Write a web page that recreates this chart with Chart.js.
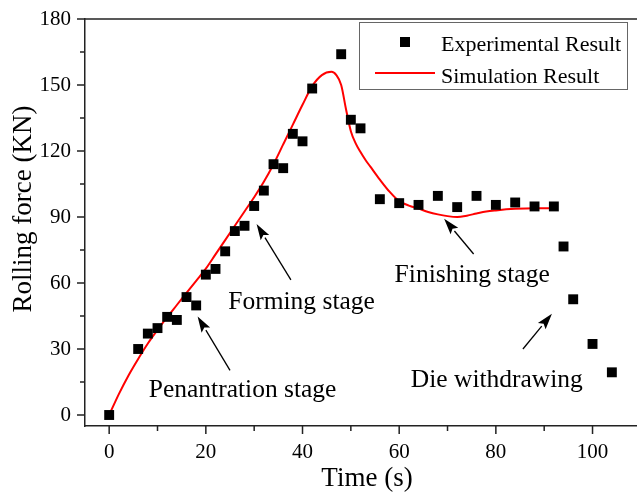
<!DOCTYPE html>
<html>
<head>
<meta charset="utf-8">
<script src="https://cdn.jsdelivr.net/npm/chart.js@4.4.0/dist/chart.umd.min.js"></script>
<style>
  html, body { margin: 0; padding: 0; background: #fff; overflow: hidden; }
  canvas { display: block; }
</style>
</head>
<body>
<canvas id="chart" width="637" height="492"></canvas>
<script>
// experimental measurements (time s, force KN)
const expTime  = [0, 6, 8, 10, 12, 14, 16, 18, 20, 22, 24, 26, 28, 30, 32, 34, 36, 38, 40, 42,
                  48, 50, 52, 56, 60, 64, 68, 72, 76, 80, 84, 88, 92, 94, 96, 100, 104];
const expForce = [0, 30, 37, 39.5, 44.6, 43.2, 53.6, 49.8, 63.8, 66.4, 74.4, 83.6, 86, 95, 102, 114, 112.2, 127.8, 124.4, 148.4,
                  164, 134.2, 130.3, 98.1, 96.3, 95.5, 99.6, 94.5, 99.6, 95.5, 96.6, 94.8, 94.8, 76.6, 52.6, 32.3, 19.4];

// simulation curve
const simTime  = [0, 2, 4, 6, 8, 10, 12, 14, 16, 18, 20, 22, 24, 26, 28, 30, 32, 34, 36, 38, 40, 42, 44,
                  46, 47, 48, 49, 50, 51, 52, 53, 54, 56, 58, 60, 62, 64, 66, 68, 70, 72, 74, 76, 78, 80, 84, 88, 92];
const simForce = [0, 9.5, 18, 25.5, 32.5, 38.7, 44.5, 50, 55.5, 61, 66.5, 73, 79.5, 86, 92.5, 99, 106, 114, 123, 132, 141, 149.5, 154.5,
                  156, 154.5, 150, 139, 129, 123.5, 119.5, 116, 113, 107, 101.5, 97.2, 95.2, 93.8, 92.3, 91.2, 90.4, 90, 90.6, 91.6, 92.5, 93, 93.7, 94, 94];

// axes
const xTicks = [0, 20, 40, 60, 80, 100];
const xMinor = [10, 30, 50, 70, 90];
const yTicks = [0, 30, 60, 90, 120, 150, 180];
const yMinor = [15, 45, 75, 105, 135, 165];

// stage labels and arrows (data coordinates)
const stageText  = ['Penantration stage', 'Forming stage', 'Finishing stage', 'Die withdrawing'];
const stageTextX = [27.6, 39.8, 75.1, 80.2];
const stageTextY = [8.3, 48.1, 60.6, 12.9];
const arrowFromX = [25, 37.6, 75.4, 85.6];
const arrowFromY = [20.3, 61.4, 73.2, 30];
const arrowToX   = [18.3, 30.5, 69.3, 91.6];
const arrowToY   = [44.8, 86.8, 89.2, 46];

const serif = "'Liberation Serif', 'Times New Roman', serif";
Chart.defaults.font.family = serif;
Chart.defaults.color = '#000';

function arrow(ctx, x0, y0, x1, y1) {
  const ang = Math.atan2(y1 - y0, x1 - x0);
  const len = 16, half = 5;
  const bx = x1 - len * Math.cos(ang), by = y1 - len * Math.sin(ang);
  ctx.beginPath();
  ctx.moveTo(x0, y0);
  ctx.lineTo(bx, by);
  ctx.stroke();
  ctx.beginPath();
  ctx.moveTo(x1, y1);
  ctx.lineTo(bx + half * Math.sin(ang), by - half * Math.cos(ang));
  ctx.lineTo(x1 - (len - 3) * Math.cos(ang), y1 - (len - 3) * Math.sin(ang));
  ctx.lineTo(bx - half * Math.sin(ang), by + half * Math.cos(ang));
  ctx.closePath();
  ctx.fill();
}

const decor = {
  id: 'decor',
  afterDraw(chart) {
    const { ctx, chartArea: a, scales: { x, y } } = chart;
    ctx.save();
    ctx.strokeStyle = '#222';
    ctx.lineWidth = 1.5;

    // top frame
    ctx.beginPath();
    ctx.moveTo(a.left, a.top);
    ctx.lineTo(a.right, a.top);
    ctx.stroke();

    // tick marks, outward
    ctx.beginPath();
    xTicks.forEach(v => { const p = x.getPixelForValue(v); ctx.moveTo(p, a.bottom); ctx.lineTo(p, a.bottom + 8); });
    xMinor.forEach(v => { const p = x.getPixelForValue(v); ctx.moveTo(p, a.bottom); ctx.lineTo(p, a.bottom + 5); });
    yTicks.forEach(v => { const p = y.getPixelForValue(v); ctx.moveTo(a.left, p); ctx.lineTo(a.left - 8, p); });
    yMinor.forEach(v => { const p = y.getPixelForValue(v); ctx.moveTo(a.left, p); ctx.lineTo(a.left - 5, p); });
    ctx.stroke();

    // axis titles
    ctx.fillStyle = '#000';
    ctx.font = '27px ' + serif;
    ctx.textAlign = 'center';
    ctx.textBaseline = 'alphabetic';
    ctx.fillText('Time (s)', 367, 486);
    ctx.save();
    ctx.translate(31, 209);
    ctx.rotate(-Math.PI / 2);
    ctx.fillText('Rolling force (KN)', 0, 0);
    ctx.restore();

    // stage labels with arrows
    ctx.font = '25.5px ' + serif;
    stageText.forEach((t, i) => {
      ctx.fillText(t, x.getPixelForValue(stageTextX[i]), y.getPixelForValue(stageTextY[i]));
    });
    ctx.strokeStyle = '#000';
    ctx.lineWidth = 1.3;
    stageText.forEach((t, i) => {
      arrow(ctx, x.getPixelForValue(arrowFromX[i]), y.getPixelForValue(arrowFromY[i]),
                 x.getPixelForValue(arrowToX[i]), y.getPixelForValue(arrowToY[i]));
    });

    // legend
    const lx = a.right - 278, ly = a.top + 3;
    ctx.strokeStyle = '#666';
    ctx.lineWidth = 1;
    ctx.strokeRect(lx + 0.5, ly + 0.5, 268, 67);
    ctx.fillStyle = '#000';
    ctx.fillRect(lx + 41, ly + 15, 10, 10);
    ctx.strokeStyle = 'rgb(255,0,0)';
    ctx.lineWidth = 2;
    ctx.beginPath();
    ctx.moveTo(lx + 16, ly + 51);
    ctx.lineTo(lx + 76, ly + 51);
    ctx.stroke();
    ctx.font = '22px ' + serif;
    ctx.textAlign = 'left';
    ctx.fillText('Experimental Result', lx + 82, ly + 29);
    ctx.fillText('Simulation Result', lx + 82, ly + 61);
    ctx.restore();
  }
};

new Chart(document.getElementById('chart'), {
  type: 'scatter',
  data: {
    datasets: [{
      label: 'Experimental Result',
      data: expTime.map((t, i) => ({ x: t, y: expForce[i] })),
      pointStyle: 'rect',
      pointRadius: 7,
      backgroundColor: '#000',
      borderColor: '#000',
      borderWidth: 0,
      showLine: false,
      order: 0
    }, {
      label: 'Simulation Result',
      data: simTime.map((t, i) => ({ x: t, y: simForce[i] })),
      showLine: true,
      borderColor: 'rgb(255,0,0)',
      borderWidth: 2,
      pointRadius: 0,
      cubicInterpolationMode: 'monotone',
      order: 1
    }]
  },
  options: {
    responsive: false,
    animation: false,
    layout: { autoPadding: false, padding: { top: 19, right: 0, left: 0, bottom: 0 } },
    plugins: { legend: { display: false }, tooltip: { enabled: false } },
    scales: {
      x: {
        type: 'linear',
        min: -5,
        max: 109.2,
        afterBuildTicks: s => { s.ticks = xTicks.map(v => ({ value: v })); },
        afterFit: s => { s.height = 66; s.paddingLeft = 0; s.paddingRight = 0; },
        grid: { display: false, drawTicks: false },
        border: { display: true, color: '#222', width: 1.5 },
        ticks: { font: { size: 21 }, color: '#000', padding: 14, maxRotation: 0 }
      },
      y: {
        min: -5,
        max: 180,
        afterBuildTicks: s => { s.ticks = yTicks.map(v => ({ value: v })); },
        afterFit: s => { s.width = 85; s.paddingTop = 0; s.paddingBottom = 0; },
        grid: { display: false, drawTicks: false },
        border: { display: true, color: '#222', width: 1.5 },
        ticks: { font: { size: 21 }, color: '#000', padding: 14 }
      }
    }
  },
  plugins: [decor]
});
</script>
</body>
</html>
